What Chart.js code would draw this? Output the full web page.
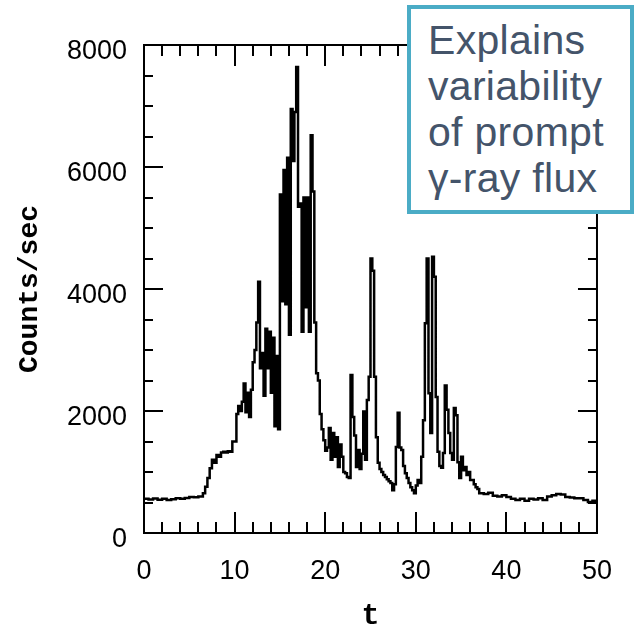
<!DOCTYPE html>
<html>
<head>
<meta charset="utf-8">
<script src="https://cdn.jsdelivr.net/npm/chart.js@4/dist/chart.umd.min.js"></script>
<style>
  html, body { margin: 0; padding: 0; background: #fff; }
  .wrap { position: relative; width: 634px; height: 628px; }
  .note {
    position: absolute; left: 407px; top: 5px; width: 227px; height: 209px;
    box-sizing: border-box; border: 4px solid #4bacc6; background: #fff;
    padding: 8px 0 0 17px; color: #44546a;
    font-family: "Liberation Sans", Arial, sans-serif; font-size: 41px; line-height: 46px;
    letter-spacing: 0.3px; white-space: nowrap;
  }
</style>
</head>
<body>
<div class="wrap">
  <canvas id="c" width="634" height="628"></canvas>
  <div class="note">Explains<br>variability<br>of prompt<br>γ-ray flux</div>
</div>
<script>
(function () {
  // light curve (t in s, counts/sec)
  var times = [
    0, 0.5, 1, 1.5, 2, 2.5, 3, 3.5, 4, 4.5, 5, 5.5, 6, 6.5, 6.75,
    7, 7.25, 7.5, 7.75, 8, 8.25, 8.5, 8.75, 9, 9.25, 9.5, 9.75,
    10, 10.2, 10.4, 10.6, 10.8, 11, 11.2, 11.4, 11.6, 11.8,
    12, 12.2, 12.4, 12.6, 12.8, 13, 13.2, 13.4, 13.6, 13.8,
    14, 14.2, 14.4, 14.6, 14.8, 15, 15.2, 15.4, 15.6, 15.8,
    16, 16.2, 16.4, 16.6, 16.8, 17, 17.2, 17.4, 17.6, 17.8,
    18, 18.2, 18.4, 18.6, 18.8, 19, 19.2, 19.4, 19.6, 19.8,
    20, 20.2, 20.4, 20.6, 20.8, 21, 21.2, 21.4, 21.6, 21.8,
    22, 22.2, 22.4, 22.6, 22.8, 23, 23.2, 23.4, 23.6, 23.8,
    24, 24.2, 24.4, 24.6, 24.8, 25, 25.2, 25.4, 25.6, 25.8,
    26, 26.2, 26.4, 26.6, 26.8, 27, 27.2, 27.4, 27.6, 27.8,
    28, 28.2, 28.4, 28.6, 28.8, 29, 29.2, 29.4, 29.6, 29.8,
    30, 30.2, 30.4, 30.6, 30.8, 31, 31.2, 31.4, 31.6, 31.8,
    32, 32.2, 32.4, 32.6, 32.8, 33, 33.2, 33.4, 33.6, 33.8,
    34, 34.2, 34.4, 34.6, 34.8, 35, 35.2, 35.4, 35.6, 35.8,
    36, 36.2, 36.4, 36.6, 36.8, 37,
    37.5, 38, 38.5, 39, 39.5, 40, 40.5, 41, 41.5, 42, 42.5, 43, 43.5,
    44, 44.5, 45, 45.5, 46, 46.5, 47, 47.5, 48, 48.5, 49, 49.5, 50
  ];
  var counts = [
    540, 560, 550, 565, 545, 560, 540, 555, 570, 560, 575, 590, 585, 600, 650,
    760, 900, 1060, 1200, 1150, 1280, 1250, 1320, 1330, 1320, 1340, 1330,
    1500, 1500, 1950, 2080, 2000, 2150, 2450, 1980, 2300, 1900,
    2350, 2800, 3000, 3450, 4120, 2700, 2950, 2250, 3350, 2700,
    3300, 2300, 3200, 1750, 2900, 1700, 5550, 3800, 5950, 3750,
    6150, 3250, 6950, 6100, 6900, 7640, 5350, 5400, 3300, 5500,
    3700, 5500, 3300, 6520, 5600, 3450, 2620, 2500, 1950, 1700,
    1520, 1350, 1400, 1720, 1200, 1640, 1250, 1570, 1080, 1450,
    1250, 1000, 980, 920, 900, 2590, 1900, 1600, 1080, 1360,
    1050, 1300, 1990, 1200, 2180, 2560, 4500, 4300, 2560, 1570,
    1150, 1050, 1000, 950, 920, 880, 850, 820, 700, 800,
    1410, 1970, 1400, 1360, 1100, 980, 900, 820, 750, 700,
    650, 780, 870, 820, 1250, 1850, 3440, 4500, 2290, 1640,
    4530, 4200, 2230, 1330, 1100, 1070, 1310, 2420, 2020, 1640,
    1310, 1200, 2050, 1930, 1160, 900, 1250, 1030, 1080, 950,
    1000, 870, 870, 800, 750, 720,
    650, 640, 660, 610, 600, 620, 590, 560, 540, 560, 530, 560, 550,
    570, 540, 600, 620, 640, 630, 590, 580, 570, 570, 540, 510, 530
  ];
  var xTickStep = 10;
  var yTickStep = 2000;

  var points = times.map(function (t, i) {
    return { x: t, y: counts[i] };
  });

  // inward ticks on all four sides, plus the frame
  var frameTicks = {
    id: 'frameTicks',
    afterDraw: function (chart) {
      var ctx = chart.ctx;
      var a = chart.chartArea;
      var xs = chart.scales.x;
      var ys = chart.scales.y;
      ctx.save();
      ctx.strokeStyle = '#000';
      ctx.lineWidth = 2;
      ctx.beginPath();
      for (var t = 0; t <= 50; t += 2) {
        var px = Math.round(xs.getPixelForValue(t));
        var len = t % 10 === 0 ? 21 : 11;
        ctx.moveTo(px, a.bottom); ctx.lineTo(px, a.bottom - len);
        ctx.moveTo(px, a.top); ctx.lineTo(px, a.top + len);
      }
      for (var v = 0; v <= 8000; v += 500) {
        var py = Math.round(ys.getPixelForValue(v));
        var l2 = v % 2000 === 0 ? 19 : 9;
        ctx.moveTo(a.left, py); ctx.lineTo(a.left + l2, py);
        ctx.moveTo(a.right, py); ctx.lineTo(a.right - l2, py);
      }
      ctx.stroke();
      ctx.strokeRect(a.left, a.top, a.right - a.left, a.bottom - a.top);
      ctx.restore();
    }
  };

  var tickFont = { family: '"Liberation Sans", Arial, sans-serif', size: 27 };
  var plain = function (value) { return String(value); };

  new Chart(document.getElementById('c'), {
    type: 'line',
    data: {
      datasets: [{
        data: points,
        borderColor: '#000',
        borderWidth: 2.5,
        pointRadius: 0,
        stepped: 'after',
        fill: false
      }]
    },
    options: {
      responsive: false,
      animation: false,
      devicePixelRatio: 1,
      layout: { padding: { top: 45, right: 19, left: 0, bottom: 0 } },
      plugins: { legend: { display: false }, tooltip: { enabled: false } },
      scales: {
        x: {
          type: 'linear',
          min: 0,
          max: 50,
          afterFit: function (scale) { scale.height = 95; },
          grid: { display: false, drawTicks: false },
          border: { display: false },
          ticks: { stepSize: xTickStep, color: '#000', font: tickFont, padding: 22, maxRotation: 0, callback: plain },
          title: {
            display: true,
            text: 't',
            color: '#000',
            font: { family: '"Liberation Mono", "Courier New", monospace', size: 30, weight: 'bold', lineHeight: 0.75 },
            padding: 0
          }
        },
        y: {
          min: 0,
          max: 8000,
          afterFit: function (scale) { scale.width = 144; },
          grid: { display: false, drawTicks: false },
          border: { display: false },
          ticks: { stepSize: yTickStep, color: '#000', font: tickFont, padding: 17, labelOffset: 6.5, callback: plain },
          title: {
            display: true,
            text: 'Counts/sec',
            color: '#000',
            font: { family: '"Liberation Mono", "Courier New", monospace', size: 28, weight: 'bold' },
            padding: { top: 13, bottom: 0 }
          }
        }
      }
    },
    plugins: [frameTicks]
  });
})();
</script>
</body>
</html>
